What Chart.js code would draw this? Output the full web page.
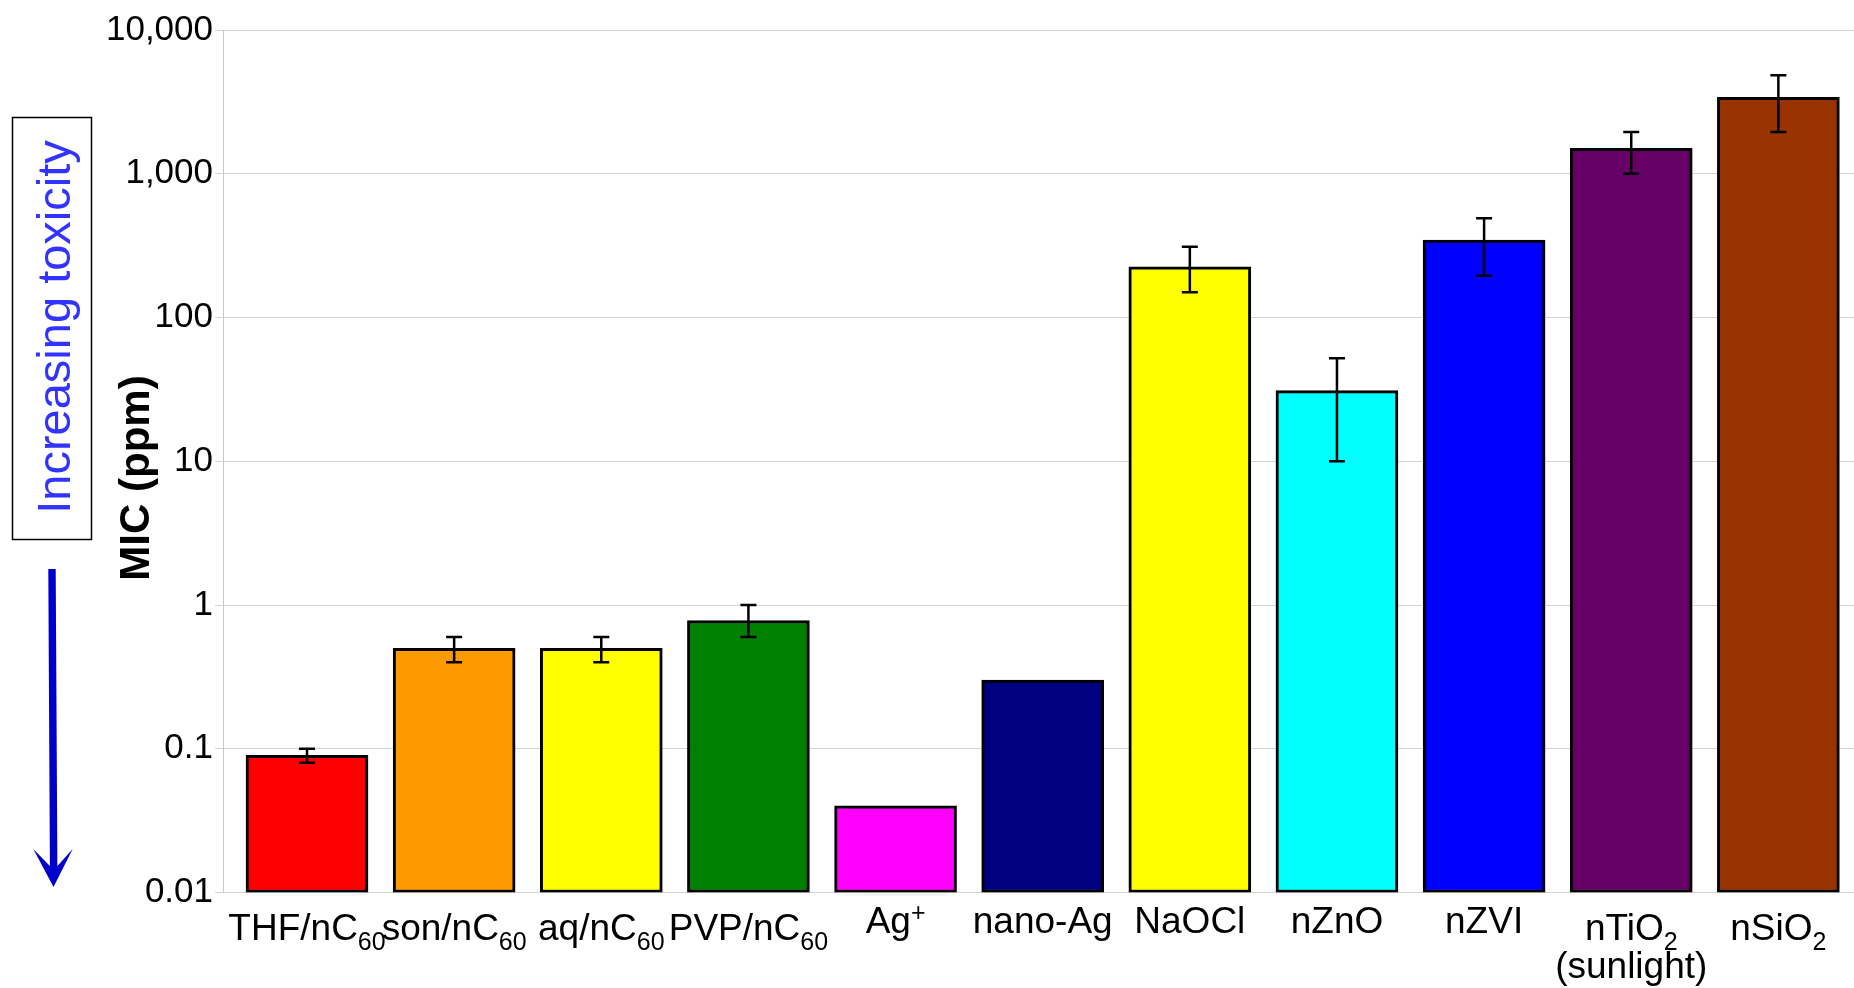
<!DOCTYPE html>
<html>
<head>
<meta charset="utf-8">
<title>MIC</title>
<script src="https://cdn.jsdelivr.net/npm/chart.js@4.4.1/dist/chart.umd.min.js"></script>
<style>
  html, body { margin: 0; padding: 0; background: #fff; }
  #wrap { width: 1854px; height: 988px; }
</style>
</head>
<body>
<div id="wrap"><canvas id="micChart" width="1854" height="988"></canvas></div>
<script>
// labels: _{..} = subscript, ^{..} = superscript, array = several lines
const categories = ['THF/nC_{60}', 'son/nC_{60}', 'aq/nC_{60}', 'PVP/nC_{60}', 'Ag^{+}', 'nano-Ag',
    'NaOCl', 'nZnO', 'nZVI', ['nTiO_{2}', '(sunlight)'], 'nSiO_{2}'];
const micValues = [0.09, 0.5, 0.5, 0.78, 0.04, 0.3, 225, 31, 345, 1500, 3400];
const errLow = [0.08, 0.4, 0.4, 0.6, null, null, 150, 10, 195, 1000, 1950];
const errHigh = [0.1, 0.6, 0.6, 1.0, null, null, 310, 52, 490, 1950, 4850];
const barColors = ['#ff0000', '#ff9900', '#ffff00', '#008000', '#ff00ff', '#000080',
    '#ffff00', '#00ffff', '#0000ff', '#660066', '#993300'];
const yTicks = [0.01, 0.1, 1, 10, 100, 1000, 10000];
const yTickLabels = ['0.01', '0.1', '1', '10', '100', '1,000', '10,000'];

const FONT = '"Liberation Sans", Arial, sans-serif';

function splitSegments(str) {
    return str.split(/(_\{[^}]*\}|\^\{[^}]*\})/).filter(s => s.length).map(s => {
        if (s.startsWith('_{')) return { text: s.slice(2, -1), mode: 'sub' };
        if (s.startsWith('^{')) return { text: s.slice(2, -1), mode: 'sup' };
        return { text: s, mode: 'normal' };
    });
}

function drawRichText(ctx, str, cx, baseline) {
    const segs = splitSegments(str);
    const fontFor = m => (m === 'normal' ? '37px ' : '25px ') + FONT;
    let total = 0;
    segs.forEach(s => {
        ctx.font = fontFor(s.mode);
        s.w = ctx.measureText(s.text).width;
        total += s.w;
    });
    let x = cx - total / 2;
    ctx.textAlign = 'left';
    ctx.textBaseline = 'alphabetic';
    segs.forEach(s => {
        ctx.font = fontFor(s.mode);
        let y = baseline;
        if (s.mode === 'sub') y += 10;
        if (s.mode === 'sup') y -= 12;
        ctx.fillText(s.text, x, y);
        x += s.w;
    });
}

const annotations = {
    id: 'annotations',
    afterDatasetsDraw(chart) {
        const ctx = chart.ctx;
        const xs = chart.scales.x;
        const ys = chart.scales.y;
        ctx.save();
        ctx.strokeStyle = '#000';
        ctx.lineWidth = 2.5;
        errLow.forEach((lo, i) => {
            if (lo === null) return;
            const x = xs.getPixelForValue(i);
            const y1 = ys.getPixelForValue(lo);
            const y2 = ys.getPixelForValue(errHigh[i]);
            ctx.beginPath();
            ctx.moveTo(x, y1); ctx.lineTo(x, y2);
            ctx.moveTo(x - 8, y1); ctx.lineTo(x + 8, y1);
            ctx.moveTo(x - 8, y2); ctx.lineTo(x + 8, y2);
            ctx.stroke();
        });
        ctx.restore();
    },
    afterDraw(chart) {
        const ctx = chart.ctx;
        const xs = chart.scales.x;
        ctx.save();
        ctx.fillStyle = '#000';

        // category labels
        categories.forEach((label, i) => {
            const lines = Array.isArray(label) ? label : [label];
            const cx = xs.getPixelForValue(i);
            const base = lines[0].includes('_{') ? 940 : 933;
            lines.forEach((ln, k) => drawRichText(ctx, ln, cx, base + k * 38));
        });

        // y axis title
        ctx.save();
        ctx.translate(149, 478);
        ctx.rotate(-Math.PI / 2);
        ctx.font = 'bold 42px ' + FONT;
        ctx.textAlign = 'center';
        ctx.textBaseline = 'alphabetic';
        ctx.fillText('MIC (ppm)', 0, 0);
        ctx.restore();

        // "Increasing toxicity" box
        ctx.strokeStyle = '#000';
        ctx.lineWidth = 1.5;
        ctx.strokeRect(12.5, 117.5, 79, 422);
        ctx.save();
        ctx.translate(69.5, 327);
        ctx.rotate(-Math.PI / 2);
        ctx.font = '47px ' + FONT;
        ctx.fillStyle = '#3333ff';
        ctx.textAlign = 'center';
        ctx.fillText('Increasing toxicity', 0, 0);
        ctx.restore();

        // arrow
        ctx.fillStyle = '#0000cc';
        ctx.beginPath();
        ctx.moveTo(48.3, 569);
        ctx.lineTo(55.7, 569);
        ctx.lineTo(57.4, 866);
        ctx.lineTo(72.7, 849);
        ctx.lineTo(53.5, 887);
        ctx.lineTo(33.3, 849);
        ctx.lineTo(49.9, 866);
        ctx.closePath();
        ctx.fill();

        ctx.restore();
    }
};

new Chart(document.getElementById('micChart').getContext('2d'), {
    type: 'bar',
    data: {
        datasets: [{
            data: micValues.map((v, i) => ({ x: i, y: v })),
            backgroundColor: barColors,
            borderColor: '#000',
            borderWidth: 3,
            borderSkipped: false,
            barThickness: 122,
        }],
    },
    options: {
        responsive: false,
        animation: false,
        devicePixelRatio: 1,
        layout: { padding: { top: 30, right: 0, bottom: 95.5, left: 0 } },
        plugins: {
            legend: { display: false },
            tooltip: { enabled: false },
        },
        scales: {
            x: {
                type: 'linear',
                min: -0.571,
                max: 10.514,
                offset: false,
                display: false,
            },
            y: {
                type: 'logarithmic',
                min: 0.01,
                max: 10000,
                afterBuildTicks: s => { s.ticks = yTicks.map(v => ({ value: v })); },
                afterFit: s => { s.width = 223; },
                ticks: {
                    callback: (v, i) => yTickLabels[i],
                    font: { family: FONT, size: 35 },
                    color: '#000',
                    padding: 2,
                    autoSkip: false,
                },
                grid: { color: '#d3d3d3', lineWidth: 1, tickLength: 8 },
                border: { display: true, color: '#c8c8c8', width: 1 },
            },
        },
    },
    plugins: [annotations],
});
</script>
</body>
</html>
